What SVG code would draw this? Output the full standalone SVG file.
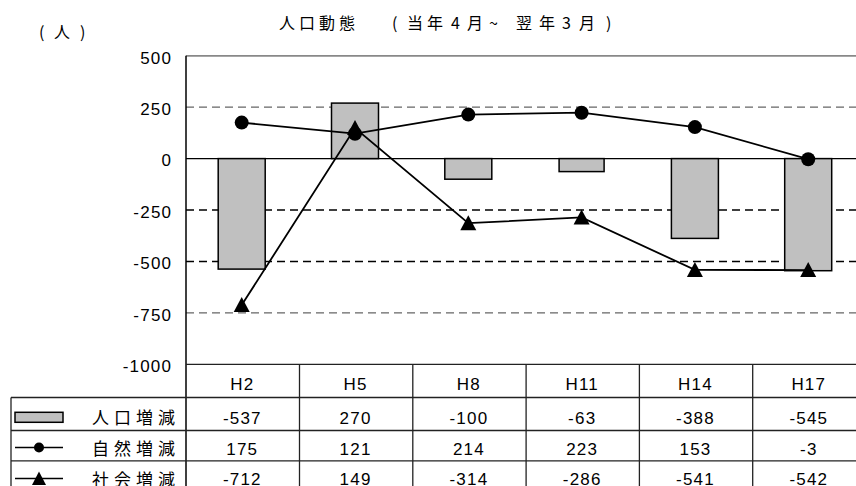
<svg xmlns="http://www.w3.org/2000/svg" xmlns:xlink="http://www.w3.org/1999/xlink" width="856" height="486" viewBox="0 0 856 486">
<style>
.cjk{font-family:"Noto Sans CJK JP","Noto Sans CJK SC",sans-serif;fill:#000}
.num{font-family:"Liberation Sans",Arial,sans-serif;font-size:17px;letter-spacing:1.2px;fill:#000}
.ax{text-anchor:end}
.val{text-anchor:middle}
.grid{stroke:#000;stroke-width:1.3;stroke-dasharray:8 5;fill:none}
.gridg{stroke:#666;stroke-width:1.3;stroke-dasharray:8 5;fill:none}
.tl{stroke:#222;stroke-width:1.3;fill:none}
.bar{fill:#c0c0c0;stroke:#000;stroke-width:1.5}
.ser{fill:none;stroke:#000;stroke-width:1.8}
.mk{fill:#000}
</style>
<defs>
<path id="tri" d="M0,-8 L8,7 L-8,7 Z"/>
</defs>
<rect width="856" height="486" fill="#fff"/>

<g id="titles">
<text class="cjk" font-size="16" y="37.5"><tspan x="39">(</tspan><tspan x="54">人</tspan><tspan x="80">)</tspan></text>
<text class="cjk" font-size="16" y="29" x="279 299 319 339 392 407 427 451 467 489 516 539 562 579 606">人口動態(当年4月~翌年3月)</text>
</g>

<g id="gridlines">
<line x1="186" y1="55.8" x2="856" y2="55.8" stroke="#888" stroke-width="1.8"/>
<line class="gridg" x1="186" y1="107.2" x2="856" y2="107.2"/>
<line x1="186" y1="158.6" x2="856" y2="158.6" stroke="#000" stroke-width="1.3"/>
<line class="grid" x1="186" y1="210" x2="856" y2="210"/>
<line class="grid" x1="186" y1="261.5" x2="856" y2="261.5"/>
<line class="gridg" x1="186" y1="312.9" x2="856" y2="312.9" stroke="#777"/>
</g>

<g id="y-axis">
<line x1="186" y1="55.8" x2="186" y2="486" stroke="#000" stroke-width="1.5"/>
<text class="num ax" x="172.2" y="63.6">500</text>
<text class="num ax" x="172.2" y="115">250</text>
<text class="num ax" x="172.2" y="166.4">0</text>
<text class="num ax" x="172.2" y="217.8">-250</text>
<text class="num ax" x="172.2" y="269.3">-500</text>
<text class="num ax" x="172.2" y="320.7">-750</text>
<text class="num ax" x="172.2" y="372.1">-1000</text>
</g>

<g id="series-population">
<rect class="bar" x="218.2" y="158.6" width="47" height="110.5"/>
<rect class="bar" x="331.5" y="103.1" width="47" height="55.5"/>
<rect class="bar" x="444.8" y="158.6" width="47" height="20.6"/>
<rect class="bar" x="559.1" y="158.6" width="45" height="13"/>
<rect class="bar" x="671.4" y="158.6" width="47" height="79.8"/>
<rect class="bar" x="784.7" y="158.6" width="47" height="112.1"/>
</g>

<g id="connectors">
<polyline class="ser" points="241.7,122.6 355,133.7 468.3,114.6 581.6,112.7 694.9,127.1 808.2,159.2"/>
<polyline class="ser" points="241.7,305.1 355,128 468.3,223.2 581.6,217.4 694.9,269.9 808.2,270.1"/>
</g>

<g id="series-natural">
<circle class="mk" cx="241.7" cy="122.6" r="7"/>
<circle class="mk" cx="355" cy="133.7" r="7"/>
<circle class="mk" cx="468.3" cy="114.6" r="7"/>
<circle class="mk" cx="581.6" cy="112.7" r="7"/>
<circle class="mk" cx="694.9" cy="127.1" r="7"/>
<circle class="mk" cx="808.2" cy="159.2" r="7"/>
</g>

<g id="series-social">
<use href="#tri" xlink:href="#tri" class="mk" x="241.7" y="305.1"/>
<use href="#tri" xlink:href="#tri" class="mk" x="355" y="128"/>
<use href="#tri" xlink:href="#tri" class="mk" x="468.3" y="223.2"/>
<use href="#tri" xlink:href="#tri" class="mk" x="581.6" y="217.4"/>
<use href="#tri" xlink:href="#tri" class="mk" x="694.9" y="269.9"/>
<use href="#tri" xlink:href="#tri" class="mk" x="808.2" y="270.1"/>
</g>

<g id="data-table">
<line class="tl" x1="186" y1="364.3" x2="856" y2="364.3"/>
<line class="tl" x1="11" y1="397.5" x2="856" y2="397.5"/>
<line class="tl" x1="11" y1="430.5" x2="856" y2="430.5"/>
<line class="tl" x1="11" y1="460.8" x2="856" y2="460.8"/>
<line class="tl" x1="11" y1="397.5" x2="11" y2="486"/>
<line class="tl" x1="299.5" y1="364.3" x2="299.5" y2="486"/>
<line class="tl" x1="412.8" y1="364.3" x2="412.8" y2="486"/>
<line class="tl" x1="526.1" y1="364.3" x2="526.1" y2="486"/>
<line class="tl" x1="639.4" y1="364.3" x2="639.4" y2="486"/>
<line class="tl" x1="752.7" y1="364.3" x2="752.7" y2="486"/>

<g id="legend-population">
<rect class="bar" x="15" y="412.3" width="48" height="10"/>
<text class="cjk" font-size="17" letter-spacing="5" x="92" y="424">人口増減</text>
</g>
<g id="legend-natural">
<line x1="15" y1="447.5" x2="63" y2="447.5" stroke="#000" stroke-width="1.5"/>
<circle class="mk" cx="39" cy="447.5" r="5"/>
<text class="cjk" font-size="17" letter-spacing="5" x="92" y="455">自然増減</text>
</g>
<g id="legend-social">
<line x1="15" y1="478.5" x2="63" y2="478.5" stroke="#000" stroke-width="1.5"/>
<path class="mk" d="M39,471.5 L46,485 L32,485 Z"/>
<text class="cjk" font-size="17" letter-spacing="5" x="92" y="485.5">社会増減</text>
</g>

<g id="table-header">
<text class="num val" x="242.3" y="390">H2</text>
<text class="num val" x="355.6" y="390">H5</text>
<text class="num val" x="468.9" y="390">H8</text>
<text class="num val" x="582.2" y="390">H11</text>
<text class="num val" x="695.5" y="390">H14</text>
<text class="num val" x="808.8" y="390">H17</text>
</g>
<g id="table-population">
<text class="num val" x="242.3" y="424">-537</text>
<text class="num val" x="355.6" y="424">270</text>
<text class="num val" x="468.9" y="424">-100</text>
<text class="num val" x="582.2" y="424">-63</text>
<text class="num val" x="695.5" y="424">-388</text>
<text class="num val" x="808.8" y="424">-545</text>
</g>
<g id="table-natural">
<text class="num val" x="242.3" y="455">175</text>
<text class="num val" x="355.6" y="455">121</text>
<text class="num val" x="468.9" y="455">214</text>
<text class="num val" x="582.2" y="455">223</text>
<text class="num val" x="695.5" y="455">153</text>
<text class="num val" x="808.8" y="455">-3</text>
</g>
<g id="table-social">
<text class="num val" x="242.3" y="485">-712</text>
<text class="num val" x="355.6" y="485">149</text>
<text class="num val" x="468.9" y="485">-314</text>
<text class="num val" x="582.2" y="485">-286</text>
<text class="num val" x="695.5" y="485">-541</text>
<text class="num val" x="808.8" y="485">-542</text>
</g>
</g>
</svg>
